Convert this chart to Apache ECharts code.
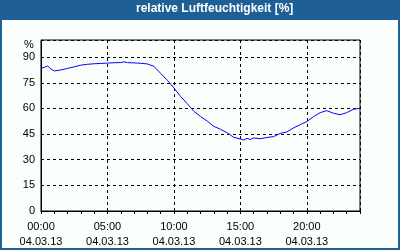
<!DOCTYPE html>
<html>
<head>
<meta charset="utf-8">
<script src="https://cdn.jsdelivr.net/npm/echarts@6/dist/echarts.min.js"></script>
<style>
  html, body { margin: 0; padding: 0; }
  #frame { position: absolute; left: 0; top: 0; width: 400px; height: 250px; background: #1e5f95; }
  #inner { position: absolute; left: 2px; top: 20px; width: 396px; height: 228px; background: #fafffc; }
  #chart { position: absolute; left: 0; top: 0; width: 400px; height: 250px; }
</style>
</head>
<body>
<div id="frame"></div>
<div id="inner"></div>
<div id="chart"></div>
<script>
// Data (hours since 00:00 on 04.03.13, relative humidity %)
const titleText = 'relative Luftfeuchtigkeit [%]';
const dateLabel = '04.03.13';
const hours = [0, 0.25, 0.5, 0.75, 1.0, 1.5, 2.0, 2.5, 3.0, 3.5, 4.0, 4.5, 5.0, 5.5, 6.0, 6.25, 6.5, 7.0, 7.5, 8.0,
  8.5, 9.0, 9.5, 10.0, 10.5, 11.0, 11.5, 12.0, 12.5, 13.0, 13.5, 14.0, 14.5, 15.0, 15.25, 15.5, 15.75, 16.0, 16.5,
  17.0, 17.5, 18.0, 18.5, 19.0, 19.5, 20.0, 20.5, 21.0, 21.5, 22.0, 22.5, 23.0, 23.5, 24.0];
const humidity = [83.5, 84, 84.8, 83, 81.9, 82.5, 83.4, 84.3, 85.3, 85.8, 86.1, 86.3, 86.5, 86.7, 86.8, 87.2, 86.8, 86.6, 86.4, 86,
  84.6, 80.5, 76.5, 72, 67, 62.8, 58.3, 55.3, 52.6, 49.5, 47.8, 45.8, 43.1, 42.1, 41.5, 42.5, 41.8, 42.7, 42.3,
  43.0, 43.5, 45.4, 46.2, 48.6, 50.5, 52.3, 55.2, 57.5, 58.7, 57.2, 56.3, 57.5, 59.5, 60];
const yTicks = [0, 15, 30, 45, 60, 75, 90];
const yUnit = '%';

const font = 'Liberation Sans';
const chart = echarts.init(document.getElementById('chart'), null, { renderer: 'canvas' });
chart.setOption({
  animation: false,
  backgroundColor: 'transparent',
  title: {
    text: titleText,
    left: 136, top: 3,
    padding: 0,
    textStyle: { color: '#ffffff', fontFamily: font, fontWeight: 'bold', fontSize: 12 }
  },
  graphic: [{
    type: 'text', left: 24, top: 39,
    style: { text: yUnit, font: '11px "Liberation Sans"', fill: '#000' }
  }],
  grid: { left: 41, top: 40, right: 40, bottom: 39, show: true, borderColor: '#000', borderWidth: 1, backgroundColor: 'transparent' },
  xAxis: [{
    type: 'value', min: 0, max: 24, interval: 5,
    axisLine: { show: true, lineStyle: { color: '#000', width: 1 } },
    axisTick: { show: false },
    splitLine: { show: true, lineStyle: { color: '#000', type: [3, 3], width: 1 } },
    axisLabel: {
      show: true, margin: 8, color: '#000', fontFamily: font, fontSize: 11, lineHeight: 15,
      showMaxLabel: false,
      formatter: function (v) {
        if (v % 5 !== 0 || v >= 24) return '';
        const hh = (v < 10 ? '0' : '') + v;
        return hh + ':00\n' + dateLabel;
      }
    }
  }, {
    type: 'value', min: 0, max: 24, interval: 1, position: 'bottom',
    axisLine: { show: false },
    axisTick: { show: true, inside: false, length: 3, lineStyle: { color: '#000' } },
    splitLine: { show: false },
    axisLabel: { show: false }
  }],
  yAxis: {
    type: 'value', min: 0, max: 100, interval: 15,
    axisLine: { show: true, lineStyle: { color: '#000' } },
    axisTick: { show: false },
    splitLine: { show: true, lineStyle: { color: '#000', type: [3, 3], width: 1 } },
    axisLabel: {
      margin: 6, color: '#000', fontFamily: font, fontSize: 11,
      formatter: function (v) { return yTicks.indexOf(v) >= 0 ? String(v) : ''; }
    }
  },
  series: [{
    type: 'line',
    xAxisIndex: 0,
    data: hours.map((h, i) => [h, humidity[i]]),
    showSymbol: false,
    lineStyle: { color: '#0000ff', width: 1 },
    itemStyle: { color: '#0000ff' }
  }]
});
</script>
</body>
</html>
